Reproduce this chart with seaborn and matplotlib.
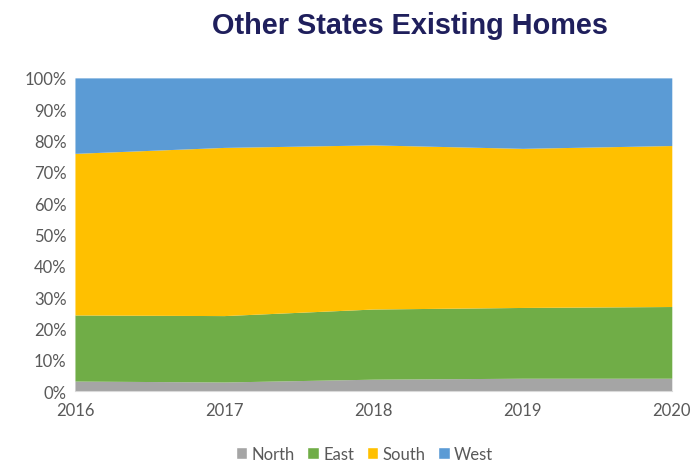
import numpy as np
import seaborn as sns
import matplotlib.pyplot as plt
from matplotlib.patches import Patch
from matplotlib.ticker import PercentFormatter

years = [2016, 2017, 2018, 2019, 2020]
regions = ['North', 'East', 'South', 'West']
north = [3.2, 2.9, 3.8, 4.1, 4.1]
east = [21.1, 21.2, 22.4, 22.6, 22.9]
south = [51.6, 53.7, 52.4, 50.8, 51.4]
west = [24.1, 22.2, 21.4, 22.5, 21.6]

colors = ['#A5A5A5', '#70AD47', '#FFC000', '#5B9BD5']

sns.set_style('white')
plt.rcParams['font.family'] = ['Lato', 'DejaVu Sans']

fig = plt.figure(figsize=(6.94, 4.64), dpi=100)
ax = fig.add_axes([0.108, 0.155, 0.86, 0.675])

ax.stackplot(years, north, east, south, west, colors=colors, linewidth=0)

ax.set_xlim(2016, 2020)
ax.set_ylim(0, 100)
ax.set_xticks(years)
ax.set_yticks(range(0, 101, 10))
ax.yaxis.set_major_formatter(PercentFormatter(decimals=0))
ax.tick_params(axis='both', length=0, labelsize=12, colors='#595959')
ax.tick_params(axis='x', pad=8)
ax.tick_params(axis='y', pad=6)
for s in ['top', 'right', 'left']:
    ax.spines[s].set_visible(False)
ax.spines['bottom'].set_color('#D9D9D9')

fig.text(0.591, 0.945, 'Other States Existing Homes', ha='center', va='center',
         fontsize=20.8, fontweight='bold', color='#1F1F5C', family='Liberation Sans')

handles = [Patch(facecolor=c, label=r) for c, r in zip(colors, regions)]
fig.legend(handles=handles, loc='center', bbox_to_anchor=(0.525, 0.02), ncol=4,
           frameon=False, fontsize=12, handlelength=0.7, handleheight=0.7,
           handletextpad=0.25, columnspacing=0.75, labelcolor='#595959')

fig.savefig('out.png', dpi=100)
